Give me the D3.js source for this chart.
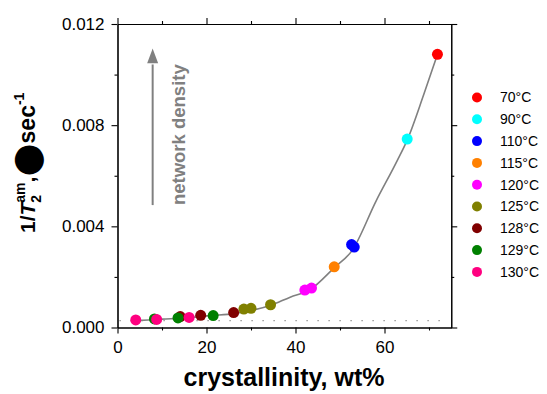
<!DOCTYPE html>
<html>
<head>
<meta charset="utf-8">
<script src="https://cdn.jsdelivr.net/npm/d3@7/dist/d3.min.js"></script>
<style>
  html, body { margin: 0; padding: 0; background: #fff; }
  svg { display: block; }
  text { font-family: "Liberation Sans", Arial, Helvetica, sans-serif; }
</style>
</head>
<body>
<svg id="chart" width="547" height="394"></svg>
<script>
// Annealing temperature groups (legend order) and their marker colours
const temps = ["70", "90", "110", "115", "120", "125", "128", "129", "130"];
const colors = ["#ff0000", "#00ffff", "#0000ff", "#ff8000", "#ff00ff", "#808000", "#800000", "#008000", "#ff0080"];

// Crystallinity (wt%) and 1/T2 (1/sec) for each temperature group
const cryst70 = [71.9];           const rate70 = [0.01080];
const cryst90 = [65.1];           const rate90 = [0.00745];
const cryst110 = [52.6, 53.2];    const rate110 = [0.00328, 0.00318];
const cryst115 = [48.7];          const rate115 = [0.00240];
const cryst120 = [42.1, 43.6];    const rate120 = [0.00148, 0.00156];
const cryst125 = [28.4, 30.0, 34.4]; const rate125 = [0.00073, 0.00076, 0.00090];
const cryst128 = [14.1, 18.7, 26.1]; const rate128 = [0.00043, 0.00048, 0.00059];
const cryst129 = [8.3, 13.6, 21.5];  const rate129 = [0.00034, 0.00038, 0.00047];
const cryst130 = [4.1, 8.8, 16.1];   const rate130 = [0.00030, 0.00032, 0.00040];

// Smooth guide curve through the data
const fitCryst = [4.0, 10, 16, 21, 26.2, 30, 34.3, 38.8, 43.3, 48.8, 52.7, 58.1, 62.8, 65.2, 68.8, 71.9];
const fitRate = [0.00027, 0.00033, 0.00039, 0.00047, 0.00055, 0.00067, 0.00087, 0.00120, 0.00150, 0.00238, 0.00304, 0.00500, 0.00658, 0.00745, 0.00920, 0.01080];

// Baseline level (dotted)
const baseRate = 0.00027;

// Axis ticks
const xMajor = [0, 20, 40, 60];
const xMinor = [10, 30, 50, 70];
const yMajor = [0, 0.004, 0.008, 0.012];
const yMinor = [0.002, 0.006, 0.010];

const crystSeries = [cryst70, cryst90, cryst110, cryst115, cryst120, cryst125, cryst128, cryst129, cryst130];
const rateSeries = [rate70, rate90, rate110, rate115, rate120, rate125, rate128, rate129, rate130];

const svg = d3.select("#chart");
const x = d3.scaleLinear().domain([0, 75]).range([117.5, 451.25]);
const y = d3.scaleLinear().domain([0, 0.012]).range([327.5, 24]);

const axisStyle = g => {
  g.selectAll("path.domain").attr("stroke", "#000").attr("stroke-width", 1.1);
  g.selectAll(".tick line").attr("stroke", "#000").attr("stroke-width", 1.1);
  g.selectAll("text").attr("font-size", 17).attr("fill", "#000")
    .style("font-family", "'Liberation Sans', Arial, sans-serif");
};

const [x0, x1] = x.range();
const [yb, yt] = y.range();

// bottom
svg.append("g").attr("transform", `translate(0,${yb})`)
  .call(d3.axisBottom(x).tickValues(xMinor).tickSize(3).tickFormat("").tickSizeOuter(0)).call(axisStyle);
svg.append("g").attr("transform", `translate(0,${yb})`)
  .call(d3.axisBottom(x).tickValues(xMajor).tickSize(6).tickPadding(7).tickFormat(d3.format("d")).tickSizeOuter(0)).call(axisStyle);
// top
svg.append("g").attr("transform", `translate(0,${yt})`)
  .call(d3.axisTop(x).tickValues(xMinor).tickSize(3).tickFormat("").tickSizeOuter(0)).call(axisStyle);
svg.append("g").attr("transform", `translate(0,${yt})`)
  .call(d3.axisTop(x).tickValues(xMajor).tickSize(6).tickFormat("").tickSizeOuter(0)).call(axisStyle);
// left
svg.append("g").attr("transform", `translate(${x0},0)`)
  .call(d3.axisLeft(y).tickValues(yMinor).tickSize(3).tickFormat("").tickSizeOuter(0)).call(axisStyle);
svg.append("g").attr("transform", `translate(${x0},0)`)
  .call(d3.axisLeft(y).tickValues(yMajor).tickSize(6).tickPadding(7).tickFormat(d3.format(".3f")).tickSizeOuter(0)).call(axisStyle);
// right
svg.append("g").attr("transform", `translate(${x1},0)`)
  .call(d3.axisRight(y).tickValues(yMinor).tickSize(3).tickFormat("").tickSizeOuter(0)).call(axisStyle);
svg.append("g").attr("transform", `translate(${x1},0)`)
  .call(d3.axisRight(y).tickValues(yMajor).tickSize(6).tickFormat("").tickSizeOuter(0)).call(axisStyle);

// dotted baseline
svg.append("line")
  .attr("x1", x(0) + 2).attr("x2", x(75) - 2)
  .attr("y1", y(baseRate)).attr("y2", y(baseRate))
  .attr("stroke", "#808080").attr("stroke-width", 1.2)
  .attr("stroke-dasharray", "1.2,9.8");

// guide curve
const fitPts = fitCryst.map((c, i) => [c, fitRate[i]]);
svg.append("path")
  .datum(fitPts)
  .attr("fill", "none").attr("stroke", "#808080").attr("stroke-width", 1.6)
  .attr("d", d3.line().x(d => x(d[0])).y(d => y(d[1])).curve(d3.curveMonotoneX));

// data points
crystSeries.forEach((cs, si) => {
  svg.append("g").selectAll("circle")
    .data(cs.map((c, i) => [c, rateSeries[si][i]]))
    .join("circle")
    .attr("cx", d => x(d[0])).attr("cy", d => y(d[1]))
    .attr("r", 5.5).attr("fill", colors[si]);
});

// legend
const leg = svg.append("g");
temps.forEach((t, i) => {
  const ly = 97.5 + i * 21.8;
  leg.append("circle").attr("cx", 477).attr("cy", ly).attr("r", 5).attr("fill", colors[i]);
  leg.append("text").attr("x", 500).attr("y", ly).attr("dy", "0.35em")
    .attr("font-size", 14).attr("fill", "#000").text(t + "°C");
});

// network density arrow
const ax = x(7.9);
svg.append("line")
  .attr("x1", ax).attr("x2", ax)
  .attr("y1", y(0.00484)).attr("y2", y(0.0104))
  .attr("stroke", "#808080").attr("stroke-width", 2);
svg.append("path")
  .attr("d", `M${ax},${y(0.01103)} L${ax - 5.5},${y(0.01045)} L${ax + 5.5},${y(0.01045)} Z`)
  .attr("fill", "#808080");
svg.append("text")
  .attr("transform", `translate(185,${y(0.00484)}) rotate(-90)`)
  .attr("font-size", 18.5).attr("font-weight", "bold").attr("fill", "#808080")
  .text("network density");

// axis titles
svg.append("text")
  .attr("x", 284).attr("y", 386).attr("text-anchor", "middle")
  .attr("font-size", 25).attr("font-weight", "bold").attr("fill", "#000")
  .text("crystallinity, wt%");

const yt2 = svg.append("text")
  .attr("transform", "translate(35,233) rotate(-90)")
  .attr("font-size", 21).attr("font-weight", "bold").attr("fill", "#000");
yt2.append("tspan").text("1/");
yt2.append("tspan").attr("font-style", "italic").text("T");
yt2.append("tspan").attr("font-size", 14).attr("dy", 6).text("2");
yt2.append("tspan").attr("font-size", 14).attr("dx", -7.8).attr("dy", -16).text("am");
yt2.append("tspan").attr("dy", 10).text(",");
yt2.append("tspan").attr("font-size", 38).attr("dy", 4).style("font-family", "'DejaVu Sans', sans-serif").text("●");
yt2.append("tspan").attr("font-size", 23).attr("dy", -4).text("sec");
yt2.append("tspan").attr("font-size", 14).attr("dy", -11).text("-1");
</script>
</body>
</html>
